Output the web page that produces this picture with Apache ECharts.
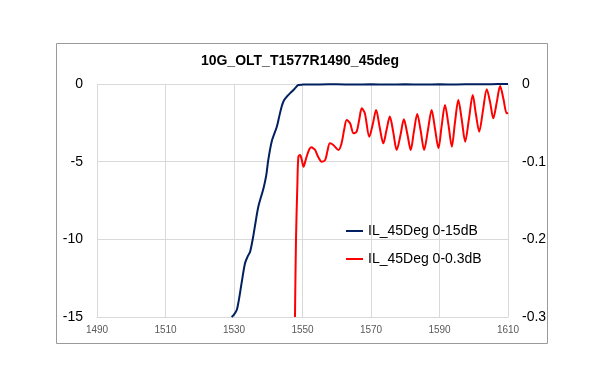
<!DOCTYPE html>
<html><head><meta charset="utf-8">
<script src="https://cdn.jsdelivr.net/npm/echarts@6/dist/echarts.min.js"></script>
<style>html,body{margin:0;padding:0;background:#fff}#c{width:600px;height:383px}</style>
</head><body><div id="c"></div>
<script>
var xTicks = [1490, 1510, 1530, 1550, 1570, 1590, 1610];
var leftTicks = [0, -5, -10, -15];
var rightTicks = [0, -0.1, -0.2, -0.3];

var blueX = [1529.3, 1530.0, 1530.8, 1531.5, 1532.2, 1533.2, 1534.0, 1534.7, 1535.6, 1536.3, 1537.1, 1538.6, 1539.4, 1540.0, 1541.0, 1542.5, 1543.2, 1543.9, 1544.6, 1545.4, 1546.8, 1547.8, 1548.8, 1550, 1555, 1560, 1565, 1570, 1575, 1580, 1585, 1590, 1595, 1600, 1605, 1610];
var blueY = [-15, -14.85, -14.55, -13.8, -12.84, -11.55, -11.1, -10.8, -9.83, -8.9, -7.9, -6.72, -5.9, -4.9, -3.71, -2.75, -2.1, -1.46, -1.05, -0.82, -0.5, -0.28, -0.06, -0.04, -0.03, -0.02, -0.04, -0.02, -0.03, -0.02, -0.03, -0.02, -0.03, -0.01, -0.01, 0];

var redX = [1547.8, 1548.1, 1548.5, 1548.8, 1549.3, 1549.8, 1550.3, 1550.8, 1551.2, 1552.0, 1552.7, 1553.2, 1553.7, 1554.6, 1555.6, 1556.6, 1557.3, 1558.0, 1559.0, 1560.5, 1561.4, 1562.2, 1562.9, 1563.9, 1564.9, 1565.8, 1566.6, 1567.3, 1568.2, 1569.5, 1570.5, 1571.5, 1572.5, 1573.6, 1574.5, 1575.5, 1576.5, 1577.5, 1578.6, 1579.6, 1580.6, 1581.6, 1582.5, 1583.5, 1584.5, 1585.5, 1586.6, 1587.7, 1588.7, 1589.7, 1590.6, 1591.6, 1592.6, 1593.6, 1594.5, 1595.5, 1596.5, 1597.5, 1598.6, 1599.7, 1600.6, 1601.6, 1602.7, 1603.8, 1604.8, 1605.7, 1606.7, 1607.7, 1608.7, 1609.6, 1610];
var redY = [-0.3, -0.2, -0.13, -0.0936, -0.0914, -0.098, -0.1065, -0.1, -0.0936, -0.084, -0.0815, -0.083, -0.085, -0.094, -0.1, -0.098, -0.086, -0.0764, -0.0786, -0.085, -0.0764, -0.058, -0.0464, -0.0506, -0.0635, -0.0614, -0.045, -0.0313, -0.0377, -0.0679, -0.052, -0.0335, -0.055, -0.0764, -0.06, -0.042, -0.062, -0.085, -0.066, -0.0455, -0.064, -0.085, -0.062, -0.0386, -0.06, -0.085, -0.06, -0.0335, -0.058, -0.0828, -0.055, -0.027, -0.052, -0.0807, -0.05, -0.0206, -0.046, -0.0743, -0.045, -0.0142, -0.038, -0.0614, -0.034, -0.0068, -0.024, -0.0442, -0.024, -0.0026, -0.02, -0.0377, -0.037];

function pairs(xs, ys) { return xs.map(function (x, i) { return [x, ys[i]]; }); }

var FONT = 'Liberation Sans';
var chart = echarts.init(document.getElementById('c'), null, {renderer: 'canvas'});
chart.setOption({
  animation: false,
  backgroundColor: '#fff',
  textStyle: {fontFamily: FONT},
  title: {
    text: '10G_OLT_T1577R1490_45deg',
    left: 'center', top: 49,
    textStyle: {fontFamily: FONT, fontSize: 14, fontWeight: 'bold', color: '#000'}
  },
  graphic: [{
    type: 'rect', left: 54, top: 41, silent: true,
    shape: {width: 491, height: 300},
    style: {fill: 'none', stroke: '#9a9a9a', lineWidth: 1}
  }],
  legend: {
    orient: 'vertical', left: 341, top: 219, itemGap: 14,
    itemWidth: 17, itemHeight: 2, icon: 'rect',
    textStyle: {fontFamily: FONT, fontSize: 14, color: '#000'},
    data: ['IL_45Deg 0-15dB', 'IL_45Deg 0-0.3dB']
  },
  grid: {left: 97, right: 92, top: 84, bottom: 66},
  xAxis: {
    type: 'value', min: xTicks[0], max: xTicks[xTicks.length - 1], interval: 20,
    axisLine: {show: true, onZero: false, lineStyle: {color: '#d9d9d9'}},
    axisTick: {show: false},
    axisLabel: {fontSize: 10, color: '#595959', margin: 8, fontFamily: FONT,
      formatter: function (v) { return String(v); }},
    splitLine: {show: true, lineStyle: {color: '#d9d9d9', width: 1}}
  },
  yAxis: [{
    type: 'value', min: leftTicks[3], max: leftTicks[0], interval: 5,
    axisLine: {show: false}, axisTick: {show: false},
    axisLabel: {fontSize: 14, color: '#000', margin: 14, fontFamily: FONT},
    splitLine: {show: true, lineStyle: {color: '#d9d9d9', width: 1}}
  }, {
    type: 'value', min: rightTicks[3], max: rightTicks[0], interval: 0.1,
    position: 'right',
    axisLine: {show: false}, axisTick: {show: false},
    axisLabel: {fontSize: 14, color: '#000', margin: 14, fontFamily: FONT},
    splitLine: {show: false}
  }],
  series: [{
    name: 'IL_45Deg 0-15dB', type: 'line', yAxisIndex: 0,
    data: pairs(blueX, blueY), showSymbol: false, symbol: 'none', smooth: 0.3,
    lineStyle: {color: '#002060', width: 2}, itemStyle: {color: '#002060'}
  }, {
    name: 'IL_45Deg 0-0.3dB', type: 'line', yAxisIndex: 1,
    data: pairs(redX, redY), showSymbol: false, symbol: 'none', smooth: 0.3,
    lineStyle: {color: '#ff0000', width: 2}, itemStyle: {color: '#ff0000'}
  }]
});
</script></body></html>
